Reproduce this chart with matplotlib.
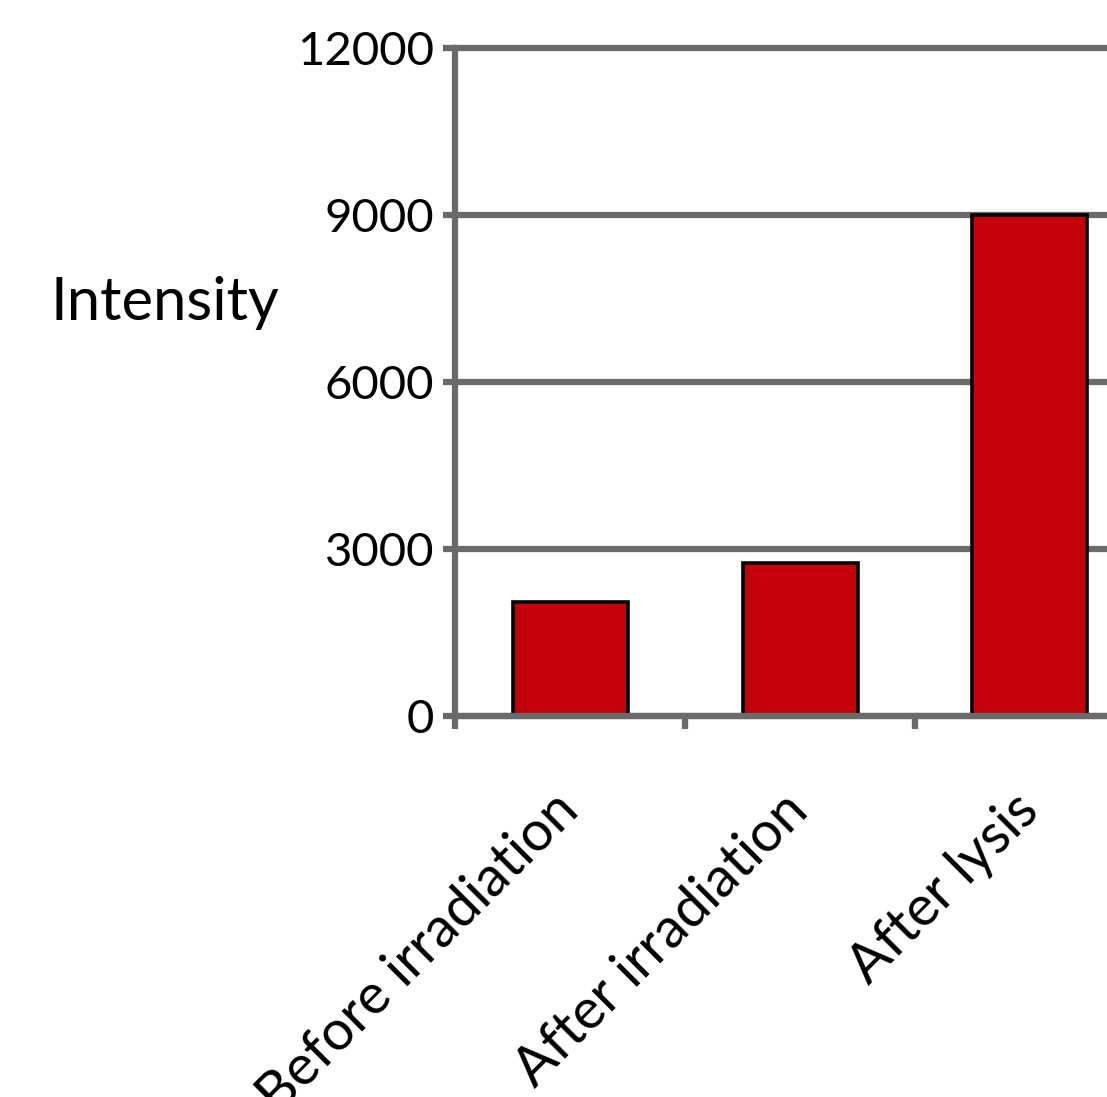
import matplotlib.pyplot as plt

# intensity measured at each stage
stages = ["Before irradiation", "After irradiation", "After lysis"]
intensity = [2050, 2750, 9000]
yticks = [0, 3000, 6000, 9000, 12000]

grey = "#6a6a6a"
plt.rcParams["font.family"] = ["Lato", "DejaVu Sans"]

fig = plt.figure(figsize=(11.07, 10.97), dpi=100)
# axes run past the right edge of the figure on purpose
ax = fig.add_axes([455 / 1107, 381 / 1097, 690 / 1107, 668 / 1097])

x = list(range(len(stages)))
ax.bar(x, intensity, width=0.5, color="#c4000b", edgecolor="black",
       linewidth=2.6, zorder=3)

ax.set_xlim(-0.5, len(stages) - 0.5)
ax.set_ylim(0, 12000)
ax.set_yticks(yticks)
ax.set_yticklabels([str(v) for v in yticks], fontsize=34)
ax.grid(axis="y", color=grey, linewidth=4.5, zorder=1)
ax.set_axisbelow(True)
for line in ax.get_ygridlines():
    line.set_clip_on(False)

for side in ["top", "right"]:
    ax.spines[side].set_visible(False)
for side in ["left", "bottom"]:
    ax.spines[side].set_color(grey)
    ax.spines[side].set_linewidth(4.5)
    ax.spines[side].set_zorder(4)

ax.tick_params(axis="y", color=grey, width=4.5, length=9, pad=6)

# category labels without tick marks, separators as minor ticks
ax.set_xticks(x)
ax.set_xticklabels(stages, fontsize=40, rotation=45, ha="right",
                   va="center", rotation_mode="anchor")
ax.tick_params(axis="x", which="major", length=0, pad=62)
ax.set_xticks([-0.5, 0.5, 1.5, 2.5], minor=True)
ax.tick_params(axis="x", which="minor", color=grey, width=4.5, length=9)

fig.text(50 / 1107, 1 - 303 / 1097, "Intensity", fontsize=43,
         ha="left", va="center")

plt.savefig("out.png", dpi=100)
plt.close()
